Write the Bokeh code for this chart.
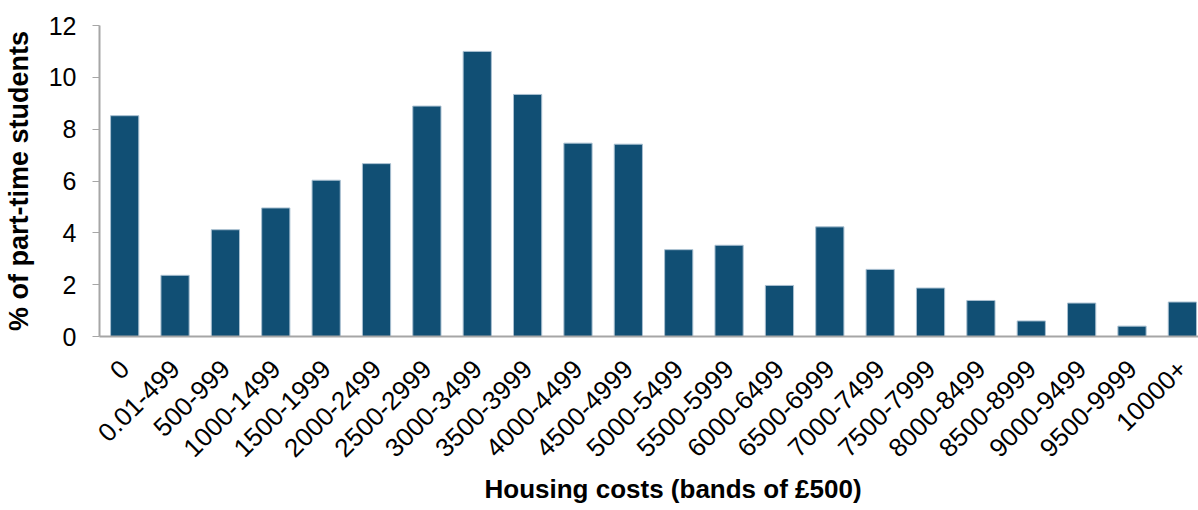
import math
from bokeh.plotting import figure
from bokeh.models import Range1d, FixedTicker, Title
from bokeh.embed import file_html
from bokeh.resources import INLINE

categories = ["0", "0.01-499", "500-999", "1000-1499", "1500-1999", "2000-2499",
              "2500-2999", "3000-3499", "3500-3999", "4000-4499", "4500-4999",
              "5000-5499", "5500-5999", "6000-6499", "6500-6999", "7000-7499",
              "7500-7999", "8000-8499", "8500-8999", "9000-9499", "9500-9999", "10000+"]
values = [8.52, 2.36, 4.12, 4.96, 6.03, 6.67, 8.89, 11.0, 9.34, 7.46, 7.42,
          3.35, 3.52, 1.97, 4.23, 2.59, 1.87, 1.39, 0.60, 1.29, 0.40, 1.33]
y_ticks = [0, 2, 4, 6, 8, 10, 12]
x_title = "Housing costs (bands of £500)"
y_title = "% of part-time students"

FONT = "Liberation Sans"
BAR = "#114F74"

idx = list(range(len(categories)))

p = figure(x_range=Range1d(-0.5, len(categories) - 0.68),
           y_range=Range1d(0, 12),
           width=1198, height=510, output_backend="svg", toolbar_location=None,
           min_border_left=97, min_border_right=0, min_border_top=25,
           min_border_bottom=174)

p.vbar(x=idx, top=values, width=0.56, fill_color=BAR,
       line_color="#A8BFD0", line_width=1)

p.outline_line_color = None
p.xgrid.grid_line_color = None
p.ygrid.grid_line_color = None

# y axis
p.yaxis.ticker = FixedTicker(ticks=y_ticks)
p.yaxis.minor_tick_line_color = None
p.yaxis.major_tick_out = 7
p.yaxis.major_tick_in = 0
p.yaxis.major_tick_line_color = "#A6A6A6"
p.yaxis.axis_line_color = "#A6A6A6"
p.yaxis.axis_line_width = 2
p.yaxis.major_label_text_font = FONT
p.yaxis.major_label_text_font_size = "25px"
p.yaxis.major_label_text_color = "#000000"
p.yaxis.major_label_standoff = 16
p.yaxis.axis_label = y_title
p.yaxis.axis_label_text_font = FONT
p.yaxis.axis_label_text_font_style = "bold"
p.yaxis.axis_label_text_font_size = "27px"
p.yaxis.axis_label_text_color = "#000000"
p.yaxis.axis_label_standoff = 12

# x axis
p.xaxis.ticker = FixedTicker(ticks=idx, minor_ticks=[])
p.xaxis.major_label_overrides = {i: c for i, c in zip(idx, categories)}
p.xaxis.major_tick_line_color = None
p.xaxis.major_tick_out = 0
p.xaxis.major_tick_in = 0
p.xaxis.minor_tick_line_color = None
p.xaxis.minor_tick_out = 0
p.xaxis.minor_tick_in = 0
p.xaxis.axis_line_color = "#A6A6A6"
p.xaxis.axis_line_width = 2
p.xaxis.major_label_orientation = math.pi / 4
p.xaxis.major_label_text_font = FONT
p.xaxis.major_label_text_font_size = "26px"
p.xaxis.major_label_text_color = "#000000"
p.xaxis.major_label_standoff = 28

t = Title(text=x_title, align="left", offset=385, standoff=6,
          text_font=FONT, text_font_style="bold", text_font_size="26px",
          text_color="#000000")
p.add_layout(t, "below")

open("out.html", "w").write(file_html(p, INLINE))
